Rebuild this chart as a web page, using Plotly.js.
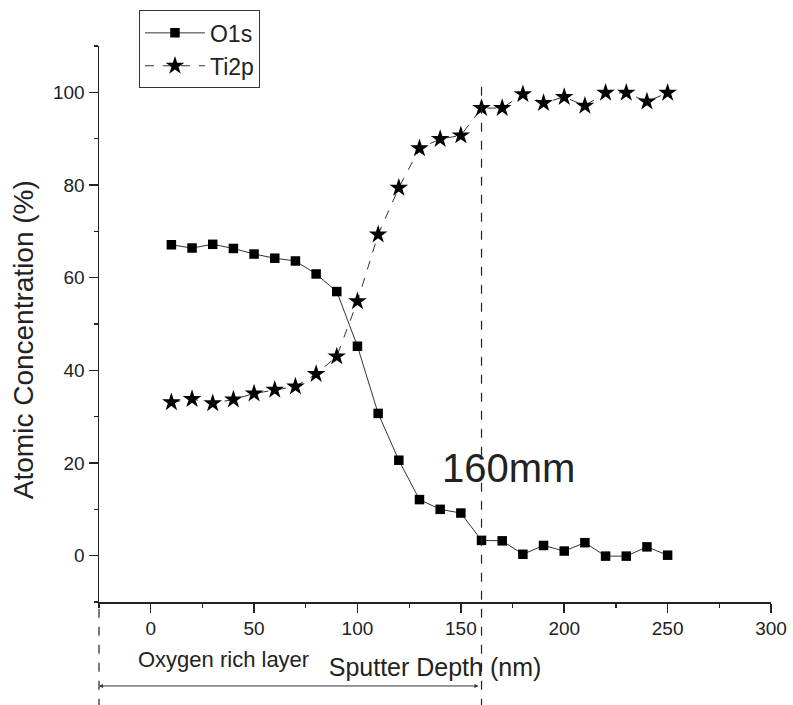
<!DOCTYPE html>
<html>
<head>
<meta charset="utf-8">
<script src="https://cdn.plot.ly/plotly-3.0.1.min.js"></script>
<style>html,body{margin:0;padding:0;background:#fff;}#chart{width:793px;height:705px;}</style>
</head>
<body>
<div id="chart"></div>
<script>
// Sputter depth (nm)
const depth = [10,20,30,40,50,60,70,80,90,100,110,120,130,140,150,160,170,180,190,200,210,220,230,240,250];
// O1s atomic concentration (%)
const o1s = [67.1,66.4,67.2,66.3,65.1,64.2,63.6,60.8,57.0,45.2,30.7,20.6,12.1,10.0,9.2,3.3,3.2,0.3,2.2,1.0,2.8,-0.1,-0.1,1.9,0.1];
// Ti2p atomic concentration (%)
const ti2p = [33.1,33.8,32.9,33.7,35.0,35.8,36.5,39.2,43.0,54.9,69.3,79.4,87.9,89.9,90.7,96.6,96.6,99.6,97.7,99.0,97.1,99.9,99.9,98.0,99.9];
const seriesNames = ["O1s", "Ti2p"];
const markerDepth = 160;
const markerLabel = "160mm";
const layerLabel = "Oxygen rich layer";
const xTitle = "Sputter Depth (nm)";
const yTitle = "Atomic Concentration (%)";

const FONT = "Liberation Sans, Arial, sans-serif";

const traces = [
  {
    x: depth, y: o1s, name: seriesNames[0], type: "scatter", mode: "lines+markers",
    line: {color: "#333", width: 1, dash: "solid"},
    marker: {symbol: "square", size: 9.5, color: "#000"}
  },
  {
    x: depth, y: ti2p, name: seriesNames[1], type: "scatter", mode: "lines+markers",
    line: {color: "#333", width: 1, dash: "dash"},
    marker: {symbol: "star", size: 14, color: "#000"}
  }
];

const layout = {
  width: 793, height: 705,
  margin: {l: 99, r: 22, t: 46, b: 103, autoexpand: false},
  paper_bgcolor: "#fff", plot_bgcolor: "#fff",
  font: {family: FONT, color: "#222", size: 18},
  showlegend: true,
  legend: {
    x: 0.0595, y: 1.064, xanchor: "left", yanchor: "top",
    bordercolor: "#333", borderwidth: 1, bgcolor: "#fff",
    font: {size: 23, family: FONT, color: "#222"},
    itemwidth: 60, tracegroupgap: 0
  },
  xaxis: {
    range: [-25, 300], dtick: 50, tick0: 0,
    showgrid: false, zeroline: false,
    showline: true, linecolor: "#222", linewidth: 1.5,
    ticks: "outside", ticklen: 9, tickwidth: 1.5, tickcolor: "#222",
    minor: {dtick: 25, tick0: 0, ticks: "outside", ticklen: 4, tickwidth: 1.2, tickcolor: "#222", showgrid: false},
    tickfont: {size: 19, family: FONT, color: "#222"},
    title: {text: xTitle, font: {size: 25, family: FONT, color: "#222"}, standoff: 20}
  },
  yaxis: {
    range: [-10, 110], dtick: 20, tick0: 0,
    showgrid: false, zeroline: false,
    showline: true, linecolor: "#222", linewidth: 1.5,
    ticks: "outside", ticklen: 9, tickwidth: 1.5, tickcolor: "#222",
    minor: {dtick: 10, tick0: 0, ticks: "outside", ticklen: 4, tickwidth: 1.2, tickcolor: "#222", showgrid: false},
    tickfont: {size: 19, family: FONT, color: "#222"}
  },
  shapes: [
    {type: "line", xref: "x", yref: "paper", x0: markerDepth, x1: markerDepth, y0: -0.19, y1: 0.942,
     line: {color: "#222", width: 1.2, dash: "dash"}},
    {type: "line", xref: "paper", yref: "paper", x0: 0, x1: 0, y0: -0.19, y1: 0,
     line: {color: "#222", width: 1.2, dash: "dash"}}
  ],
  annotations: [
    {x: -0.113, y: 0.471, xref: "paper", yref: "paper", xanchor: "center", yanchor: "middle",
     text: yTitle, textangle: -90, showarrow: false,
     font: {size: 28, family: FONT, color: "#222"}},
    {x: 173.2, y: 19.0, xref: "x", yref: "y", xanchor: "center", yanchor: "middle",
     text: markerLabel, showarrow: false,
     font: {size: 40, family: FONT, color: "#222"}},
    {x: 0.186, y: -0.104, xref: "paper", yref: "paper", xanchor: "center", yanchor: "middle",
     text: layerLabel, showarrow: false,
     font: {size: 22, family: FONT, color: "#222"}},
    {x: 0, y: -0.151, xref: "paper", yref: "paper", text: "", showarrow: true,
     axref: "pixel", ayref: "pixel", ax: 381, ay: 0,
     arrowside: "end+start", arrowhead: 2, startarrowhead: 2, arrowsize: 0.8, startarrowsize: 0.8,
     arrowwidth: 1, arrowcolor: "#333"}
  ]
};

Plotly.newPlot("chart", traces, layout, {displayModeBar: false, staticPlot: true});
</script>
</body>
</html>
